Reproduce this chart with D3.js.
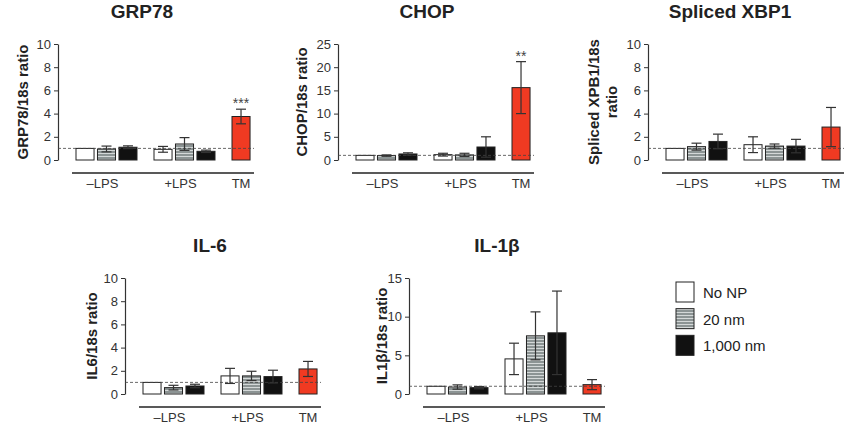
<!DOCTYPE html>
<html lang="en">
<head>
<meta charset="UTF-8">
<title>ER stress and cytokine expression</title>
<script src="https://d3js.org/d3.v7.min.js"></script>
<style>
  body { margin: 0; background: #fff; font-family: "Liberation Sans", Arial, sans-serif; }
  .tick text { font-size: 13px; fill: #333; }
  .tick line, .domain { stroke: #333; }
</style>
</head>
<body>
<svg id="chart" width="848" height="424"></svg>
<script>
const groups = ['–LPS', '+LPS', 'TM'];
const treatments = ['No NP', '20 nm', '1,000 nm'];

// bar order: -LPS x3, +LPS x3, TM (TM sits in the first slot of its group)
const barGroup = ['–LPS', '–LPS', '–LPS', '+LPS', '+LPS', '+LPS', 'TM'];
const barTreat = ['No NP', '20 nm', '1,000 nm', 'No NP', '20 nm', '1,000 nm', 'No NP'];
const barKind = ['none', 'stripe', 'black', 'none', 'stripe', 'black', 'tm'];

const grp78Mean = [1.0, 0.95, 1.1, 0.92, 1.38, 0.75, 3.75];
const grp78Err  = [0, 0.25, 0.12, 0.25, 0.55, 0.1, 0.63];
const chopMean  = [1.0, 0.95, 1.3, 1.15, 1.1, 2.8, 15.6];
const chopErr   = [0, 0.15, 0.25, 0.3, 0.35, 2.2, 5.6];
const xbp1Mean  = [1.0, 1.15, 1.6, 1.32, 1.2, 1.2, 2.84];
const xbp1Err   = [0, 0.3, 0.63, 0.68, 0.18, 0.58, 1.69];
const il6Mean   = [1.0, 0.55, 0.69, 1.56, 1.56, 1.5, 2.16];
const il6Err    = [0, 0.2, 0.15, 0.65, 0.4, 0.55, 0.65];
const il1bMean  = [1.0, 0.9, 0.82, 4.54, 7.52, 7.91, 1.21];
const il1bErr   = [0, 0.28, 0.15, 2.03, 3.1, 5.4, 0.65];

const ticks10 = [0, 2, 4, 6, 8, 10];
const ticks25 = [0, 5, 10, 15, 20, 25];
const ticks15 = [0, 5, 10, 15];

const fills = { none: '#fff', stripe: 'url(#stripes)', black: '#111', tm: '#f03a22' };

const svg = d3.select('#chart');

const defs = svg.append('defs');
const pat = defs.append('pattern')
  .attr('id', 'stripes')
  .attr('width', 4).attr('height', 3)
  .attr('patternUnits', 'userSpaceOnUse');
pat.append('rect').attr('width', 4).attr('height', 3).attr('fill', '#8c9494');
pat.append('rect').attr('width', 4).attr('height', 1).attr('fill', '#d4d8d8');

const panels = [
  { title: 'GRP78', yLabel: ['GRP78/18s ratio'], mean: grp78Mean, err: grp78Err, yMax: 10, ticks: ticks10, stars: '***', ax: 58, top: 44, titleX: 142, labelX: 28 },
  { title: 'CHOP', yLabel: ['CHOP/18s ratio'], mean: chopMean, err: chopErr, yMax: 25, ticks: ticks25, stars: '**', ax: 338, top: 44, titleX: 427, labelX: 307 },
  { title: 'Spliced XBP1', yLabel: ['Spliced XPB1/18s', 'ratio'], mean: xbp1Mean, err: xbp1Err, yMax: 10, ticks: ticks10, stars: '', ax: 648, top: 44, titleX: 730, labelX: 599 },
  { title: 'IL-6', yLabel: ['IL6/18s ratio'], mean: il6Mean, err: il6Err, yMax: 10, ticks: ticks10, stars: '', ax: 125, top: 278, titleX: 210, labelX: 97 },
  { title: 'IL-1β', yLabel: ['IL1β/18s ratio'], mean: il1bMean, err: il1bErr, yMax: 15, ticks: ticks15, stars: '', ax: 409, top: 278, titleX: 497, labelX: 387 }
];

const plotH = 116;

function drawPanel(p) {
  const bottom = p.top + plotH;
  const g = svg.append('g');
  const y = d3.scaleLinear().domain([0, p.yMax]).range([bottom, p.top]);
  const x0 = d3.scaleBand().domain(groups).range([p.ax + 18, p.ax + 18 + 234]);
  const x1 = d3.scaleBand().domain(treatments).range([0, 61]).paddingInner(0.16);
  const bx = i => x0(barGroup[i]) + x1(barTreat[i]);
  const bw = x1.bandwidth();

  // title
  g.append('text')
    .attr('x', p.titleX).attr('y', p.top - 26)
    .attr('text-anchor', 'middle')
    .style('font-size', '19px').style('font-weight', 'bold').attr('fill', '#222')
    .text(p.title);

  // y label
  p.yLabel.forEach((t, k) => {
    g.append('text')
      .attr('transform', `translate(${p.labelX + k * 18},${(p.top + bottom) / 2}) rotate(-90)`)
      .attr('text-anchor', 'middle')
      .style('font-size', '15px').style('font-weight', 'bold').attr('fill', '#222')
      .text(t);
  });

  // y axis
  g.append('g')
    .attr('transform', `translate(${p.ax},0)`)
    .call(d3.axisLeft(y).tickValues(p.ticks).tickSize(4).tickSizeOuter(0).tickPadding(3))
    .call(a => a.select('.domain').attr('stroke-width', 1.2));

  // bars
  const idx = d3.range(p.mean.length);
  g.selectAll('rect.bar')
    .data(idx).enter().append('rect')
    .attr('class', 'bar')
    .attr('x', i => bx(i))
    .attr('y', i => y(p.mean[i]))
    .attr('width', bw)
    .attr('height', i => bottom - y(p.mean[i]))
    .attr('fill', i => fills[barKind[i]])
    .attr('stroke', '#222').attr('stroke-width', 1);

  // dashed reference line at 1
  g.append('line')
    .attr('x1', p.ax).attr('x2', p.ax + 196)
    .attr('y1', y(1)).attr('y2', y(1))
    .attr('stroke', '#444').attr('stroke-width', 0.8)
    .attr('stroke-dasharray', '3,2');

  // error bars
  const eb = g.selectAll('g.err')
    .data(idx.filter(i => p.err[i] > 0)).enter().append('g')
    .attr('class', 'err')
    .attr('stroke', '#333').attr('stroke-width', 1.2);
  eb.append('line')
    .attr('x1', i => bx(i) + bw / 2).attr('x2', i => bx(i) + bw / 2)
    .attr('y1', i => y(p.mean[i] + p.err[i])).attr('y2', i => y(p.mean[i] - p.err[i]));
  eb.append('line')
    .attr('x1', i => bx(i) + bw / 2 - 5).attr('x2', i => bx(i) + bw / 2 + 5)
    .attr('y1', i => y(p.mean[i] + p.err[i])).attr('y2', i => y(p.mean[i] + p.err[i]));
  eb.append('line')
    .attr('x1', i => bx(i) + bw / 2 - 5).attr('x2', i => bx(i) + bw / 2 + 5)
    .attr('y1', i => y(p.mean[i] - p.err[i])).attr('y2', i => y(p.mean[i] - p.err[i]));

  // significance stars over TM
  if (p.stars) {
    const t = p.mean.length - 1;
    g.append('text')
      .attr('x', bx(t) + bw / 2).attr('y', y(p.mean[t] + p.err[t]) - 1)
      .attr('text-anchor', 'middle')
      .style('font-size', '14px').attr('fill', '#444')
      .text(p.stars);
  }

  // group baseline + labels
  g.append('line')
    .attr('x1', p.ax + 14).attr('x2', p.ax + 196)
    .attr('y1', bottom + 13).attr('y2', bottom + 13)
    .attr('stroke', '#222').attr('stroke-width', 1.5);
  groups.forEach(gr => {
    const members = idx.filter(i => barGroup[i] === gr);
    const cx = d3.mean(members, i => bx(i) + bw / 2);
    g.append('text')
      .attr('x', cx - (gr === 'TM' ? 0 : 4)).attr('y', bottom + 28)
      .attr('text-anchor', 'middle')
      .style('font-size', '13px').attr('fill', '#333')
      .text(gr);
  });
}

panels.forEach(drawPanel);

// legend
const legend = svg.append('g').attr('transform', 'translate(676,282)');
const legendKinds = ['none', 'stripe', 'black'];
const ly = d3.scaleBand().domain(treatments).range([0, 80]);
legend.selectAll('rect')
  .data(treatments).enter().append('rect')
  .attr('x', 0).attr('y', d => ly(d))
  .attr('width', 18).attr('height', 20)
  .attr('fill', (d, i) => fills[legendKinds[i]])
  .attr('stroke', '#222').attr('stroke-width', 1);
legend.selectAll('text')
  .data(treatments).enter().append('text')
  .attr('x', 27).attr('y', d => ly(d) + 16)
  .style('font-size', '15px').attr('fill', '#222')
  .text(d => d);
</script>
</body>
</html>
